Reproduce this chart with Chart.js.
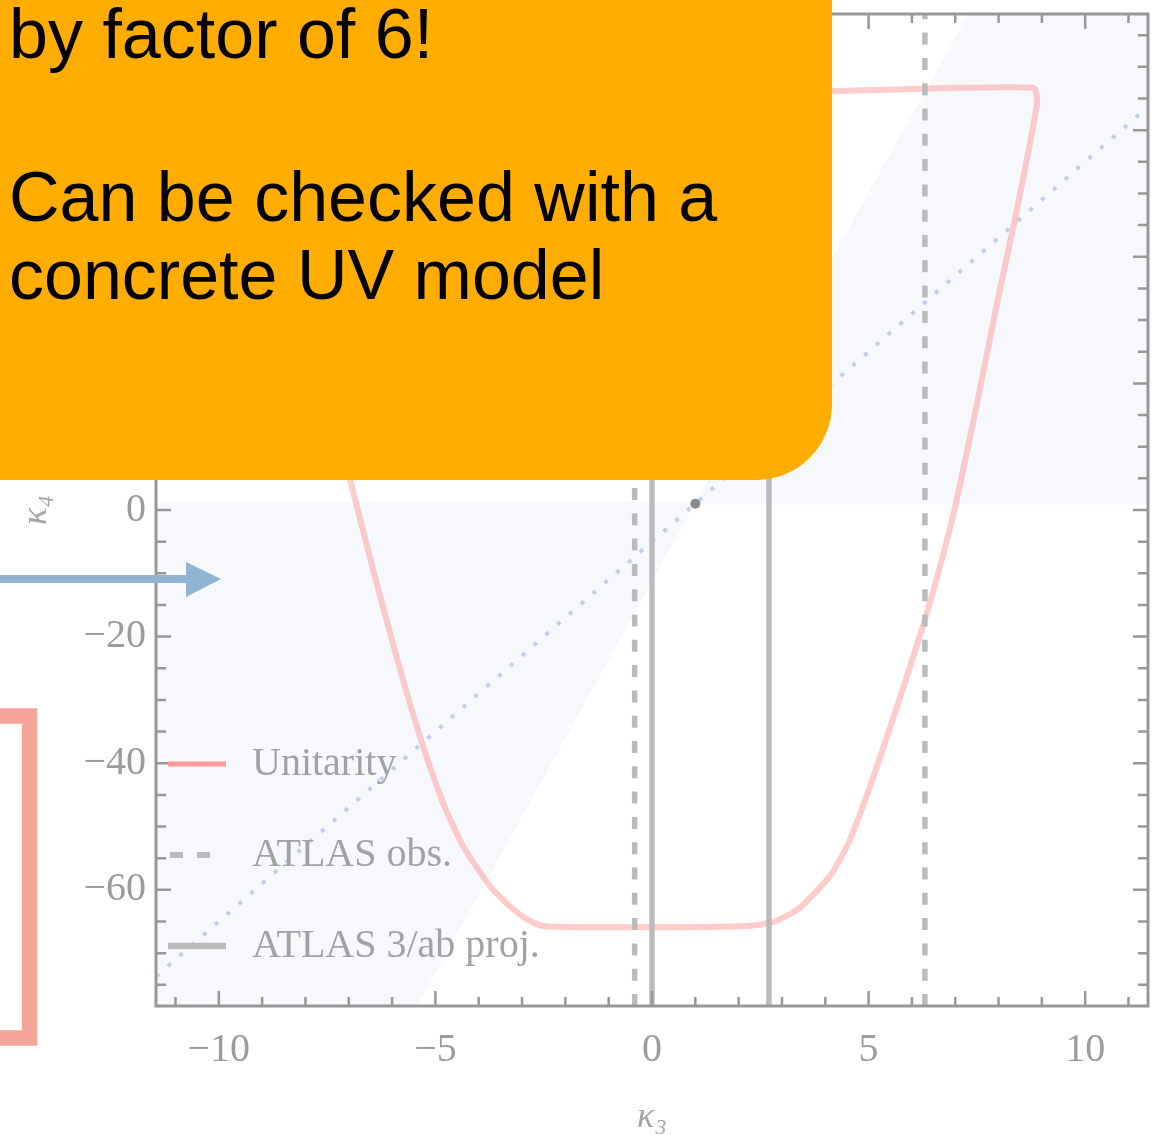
<!DOCTYPE html>
<html>
<head>
<meta charset="utf-8">
<script src="https://cdn.jsdelivr.net/npm/chart.js@4.4.1/dist/chart.umd.min.js"></script>
<style>
  html, body { margin: 0; padding: 0; background: #ffffff; }
  #wrap { position: relative; width: 1162px; height: 1135px; overflow: hidden; }
  #plot { position: absolute; left: 0; top: 0; }
  .callout {
    position: absolute; left: 0; top: -100px; width: 832px; height: 580px;
    background: #ffad00; border-bottom-right-radius: 76px;
  }
  .callout div {
    position: absolute; left: 9px; white-space: nowrap; color: #000;
    font-family: 'Liberation Sans', Arial, Helvetica, sans-serif;
    font-size: 70px; line-height: 80px;
  }
  svg.mark { position: absolute; left: 0; top: 0; }
</style>
</head>
<body>
<div id="wrap">
  <canvas id="plot" width="1162" height="1135"></canvas>

  <div class="callout">
    <div style="top: 94px;">by factor of 6!</div>
    <div style="top: 257px;">Can be checked with a</div>
    <div style="top: 335px;">concrete UV model</div>
  </div>

  <svg class="mark" width="1162" height="1135" viewBox="0 0 1162 1135">
    <!-- pointer arrow -->
    <rect x="0" y="575" width="188" height="8" fill="#8fb4d4"/>
    <polygon points="186,562 221,579 186,597" fill="#8fb4d4"/>
    <!-- bracket -->
    <polyline points="0,716 29.5,716 29.5,1038 0,1038" fill="none"
              stroke="#f6a59b" stroke-width="15.5" stroke-linejoin="miter"/>
  </svg>
</div>

<script>
// ---- axis ranges and tick labels ----
const K3_RANGE = [-11.45, 11.45];
const K4_RANGE = [-78.35, 78.35];
const k3TickLabels = [-10, -5, 0, 5, 10];
const k4TickLabels = [-60, -40, -20, 0, 20, 40, 60];

// ---- unitarity boundary (closed contour in the kappa3-kappa4 plane) ----
const unitarityK3 = [-9.0, 4.2, 8.80, 8.89, 8.42, 7.96, 7.50, 7.04, 6.65, 6.27, 5.65, 5.03, 4.53, 4.11,
                     3.42, 3.05, 2.73, 2.2, 0.0, -2.4, -2.7, -2.97, -3.3, -3.74, -4.36, -4.82, -5.36,
                     -5.90, -6.44, -6.97, -7.6, -8.36, -9.0];
const unitarityK4 = [65.7, 66.2, 66.7, 64.3, 47.3, 32.5, 16.7, 1.8, -8.9, -18.0, -31.2, -43.7, -52.7, -57.8,
                     -62.8, -64.3, -65.2, -65.7, -65.9, -65.8, -65.3, -64.3, -62.5, -59.4, -53.1, -46.3, -35.7,
                     -23.1, -9.4, 4.8, 22.0, 45.0, 65.7];

// ---- ATLAS kappa_lambda intervals ----
const atlasObs = [-0.4, 6.3];
const atlasProj = [0.0, 2.7];

// ---- Standard Model point ----
const smK3 = [1];
const smK4 = [1];

// ---- kappa4 - 1 = 6 (kappa3 - 1) reference line ----
const sixLineK3 = [-11.45, 11.45];
const sixLineK4 = [-73.7, 63.7];

// ---- shaded regions ----
const shadeLowK3 = [-11.45, 1.02, -5.42, -11.45];
const shadeLowK4 = [1.3, 1.3, -78.35, -78.35];
const shadeHighK3 = [0.99, 11.45, 11.45, 7.30];
const shadeHighK4 = [0.9, 0.9, 78.35, 78.35];

const pts = (xs, ys) => xs.map((x, i) => ({ x, y: ys[i] }));
const vline = k3 => [{ x: k3, y: K4_RANGE[0] }, { x: k3, y: K4_RANGE[1] }];
const fmt = v => (v < 0 ? '\u2212' + Math.abs(v) : String(v));

const SERIF = "'Liberation Serif', 'DejaVu Serif', serif";
const GREY_TXT = '#9c9c9c';
const GREY_LINE = '#bbbbbb';

const datasets = [
  { label: 'SM', data: pts(smK3, smK4), order: 0, showLine: false,
    pointRadius: 5, pointBackgroundColor: '#8a8a8a', pointBorderWidth: 0 },
  { label: 'ATLAS obs.', data: vline(atlasObs[0]), order: 1, borderColor: GREY_LINE, borderWidth: 5.5,
    borderDash: [12, 13.3], pointRadius: 0, fill: false,
    legendStyle: { color: GREY_LINE, width: 6, dash: [13, 14], len: 41, dx: 2 } },
  { label: 'ATLAS obs. upper', data: vline(atlasObs[1]), order: 1, borderColor: GREY_LINE, borderWidth: 5.5,
    borderDash: [12, 13.3], pointRadius: 0, fill: false },
  { label: 'ATLAS 3/ab proj.', data: vline(atlasProj[0]), order: 1, borderColor: GREY_LINE, borderWidth: 5.5,
    pointRadius: 0, fill: false,
    legendStyle: { color: GREY_LINE, width: 6.5, dash: [], len: 58, dx: 0 } },
  { label: 'ATLAS 3/ab proj. upper', data: vline(atlasProj[1]), order: 1, borderColor: GREY_LINE, borderWidth: 5.5,
    pointRadius: 0, fill: false },
  { label: 'Unitarity', data: pts(unitarityK3, unitarityK4), order: 3, borderColor: 'rgba(255,153,153,0.5)',
    borderWidth: 6, pointRadius: 0, fill: false, tension: 0.2, borderJoinStyle: 'round',
    legendStyle: { color: '#ff9999', width: 5, dash: [], len: 58, dx: 0, first: true } },
  { label: 'six', data: pts(sixLineK3, sixLineK4), order: 4, borderColor: '#c2d0e7', borderWidth: 4,
    borderDash: [4, 11.7], pointRadius: 0, fill: false },
  { label: 'shade high', data: pts(shadeHighK3, shadeHighK4), order: 10, borderWidth: 0,
    backgroundColor: '#f6f8fc', fill: 'shape', pointRadius: 0 },
  { label: 'shade low', data: pts(shadeLowK3, shadeLowK4), order: 10, borderWidth: 0,
    backgroundColor: '#f6f8fc', fill: 'shape', pointRadius: 0 }
];

// frame with inward ticks on all four sides
const frameTicks = {
  id: 'frameTicks',
  afterDatasetsDraw(chart) {
    const { ctx, chartArea: a, scales: { x, y } } = chart;
    ctx.save();
    ctx.strokeStyle = '#989898';
    ctx.lineWidth = 2.5;
    ctx.beginPath();
    for (let v = Math.ceil(K3_RANGE[0]); v <= Math.floor(K3_RANGE[1]); v++) {
      const px = x.getPixelForValue(v);
      const len = v % 5 === 0 ? 15 : 9;
      ctx.moveTo(px, a.bottom); ctx.lineTo(px, a.bottom - len);
      ctx.moveTo(px, a.top); ctx.lineTo(px, a.top + len);
    }
    for (let v = -75; v <= 75; v += 5) {
      const py = y.getPixelForValue(v);
      const len = v % 20 === 0 ? 15 : 10;
      ctx.moveTo(a.left, py); ctx.lineTo(a.left + len, py);
      ctx.moveTo(a.right, py); ctx.lineTo(a.right - len, py);
    }
    ctx.stroke();
    ctx.lineWidth = 3;
    ctx.strokeRect(a.left, a.top, a.right - a.left, a.bottom - a.top);
    ctx.restore();
  }
};

// legend drawn inside the plot area, lower left
const insetLegend = {
  id: 'insetLegend',
  afterDraw(chart) {
    const { ctx, chartArea: a } = chart;
    const items = chart.data.datasets.filter(d => d.legendStyle)
      .sort((p, q) => (q.legendStyle.first ? 1 : 0) - (p.legendStyle.first ? 1 : 0));
    ctx.save();
    items.forEach((d, i) => {
      const s = d.legendStyle;
      const yy = a.top + 750 + 91 * i;
      const x0 = a.left + 12 + s.dx;
      ctx.beginPath();
      ctx.strokeStyle = s.color;
      ctx.lineWidth = s.width;
      ctx.setLineDash(s.dash);
      ctx.moveTo(x0, yy); ctx.lineTo(x0 + s.len, yy);
      ctx.stroke();
      ctx.setLineDash([]);
      ctx.fillStyle = '#a2a2a2';
      ctx.font = '40px ' + SERIF;
      ctx.textBaseline = 'middle';
      ctx.textAlign = 'left';
      ctx.fillText(d.label, a.left + 96, yy);
    });
    ctx.restore();
  }
};

new Chart(document.getElementById('plot'), {
  type: 'line',
  data: { datasets },
  plugins: [frameTicks, insetLegend],
  options: {
    responsive: false,
    devicePixelRatio: 1,
    animation: false,
    events: [],
    layout: { padding: { top: 14, right: 14, left: 0, bottom: 0 } },
    plugins: { legend: { display: false }, tooltip: { enabled: false } },
    scales: {
      x: {
        type: 'linear', position: 'bottom', min: K3_RANGE[0], max: K3_RANGE[1],
        grid: { display: false, drawTicks: false }, border: { display: false },
        afterBuildTicks: s => { s.ticks = k3TickLabels.map(v => ({ value: v })); },
        afterFit: s => { s.height = 129; s.paddingLeft = 0; s.paddingRight = 0; },
        ticks: { padding: 20, color: GREY_TXT, maxRotation: 0, autoSkip: false,
                 font: { family: SERIF, size: 40 }, callback: v => fmt(v) },
        title: { display: true, text: 'κ₃', color: '#a6a6a6',
                 font: { family: SERIF, size: 36, style: 'italic' }, padding: { top: 0, bottom: -4 } }
      },
      y: {
        type: 'linear', position: 'left', min: K4_RANGE[0], max: K4_RANGE[1],
        grid: { display: false, drawTicks: false }, border: { display: false },
        afterBuildTicks: s => { s.ticks = k4TickLabels.map(v => ({ value: v })); },
        afterFit: s => { s.width = 156; s.paddingTop = 0; s.paddingBottom = 0; },
        ticks: { padding: 10, color: GREY_TXT, autoSkip: false,
                 font: { family: SERIF, size: 40 }, callback: v => fmt(v) },
        title: { display: true, text: 'κ₄', color: '#a6a6a6',
                 font: { family: SERIF, size: 36, style: 'italic' }, padding: { top: 15, bottom: 0 } }
      }
    }
  }
});
</script>
</body>
</html>
